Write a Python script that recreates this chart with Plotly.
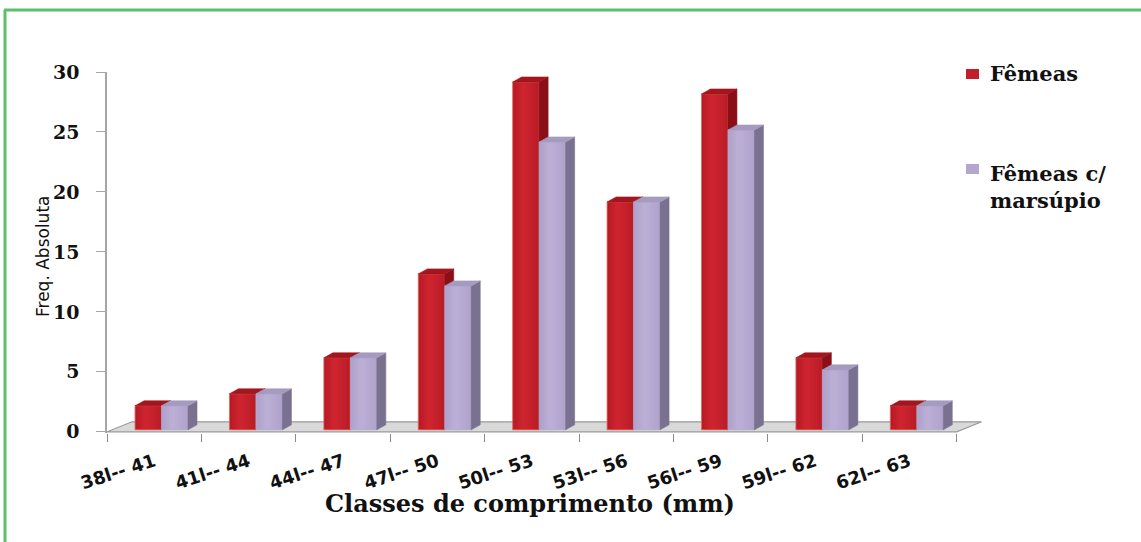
import plotly.graph_objects as go

# ---- data -------------------------------------------------------------
classes = ["38l-- 41", "41l-- 44", "44l-- 47", "47l-- 50", "50l-- 53",
           "53l-- 56", "56l-- 59", "59l-- 62", "62l-- 63"]
femeas = [2, 3, 6, 13, 29, 19, 28, 6, 2]
femeas_marsupio = [2, 3, 6, 12, 24, 19, 25, 5, 2]
y_ticks = [0, 5, 10, 15, 20, 25, 30]

# ---- canvas / axes geometry ----------------------------------------------
W, H = 1141, 542
M_L, M_R, M_T, M_B = 107, 156, 72, 109
X_RANGE = [0, 9.3]
Y_RANGE = [-0.1, 30]
PLOT_W = W - M_L - M_R
PLOT_H = H - M_T - M_B
ppx = PLOT_W / (X_RANGE[1] - X_RANGE[0])   # pixels per category unit
ppy = PLOT_H / (Y_RANGE[1] - Y_RANGE[0])   # pixels per frequency unit

# pseudo-3D extrusion, expressed in data units
BAR_DX, BAR_DY = 9 / ppx, 5 / ppy
FLOOR_DX, FLOOR_DY = 25 / ppx, 10 / ppy
LIFT = 2 / ppy
BAR_W = 0.28
OFFSETS = [0.297, 0.578]
STRIPS = 10         # overlapping bands used to shade the front faces

N = len(classes)


def px_x(p):
    return (p - M_L) / PLOT_W


def px_y(p):
    return 1 - (p - M_T) / PLOT_H


def hex_rgb(h):
    h = h.lstrip("#")
    return [int(h[i:i + 2], 16) for i in (0, 2, 4)]


def mix(c1, c2, t):
    a, b = hex_rgb(c1), hex_rgb(c2)
    return "rgb(%d,%d,%d)" % tuple(round(a[k] + (b[k] - a[k]) * t) for k in range(3))


def shade_profile(t):
    # light in the left-centre, darker towards both edges
    peak = 0.4
    if t < peak:
        return 0.35 + 0.65 * (t / peak)
    return 1 - 0.55 * ((t - peak) / (1 - peak))


def rect_path(values, offset, a, b):
    xs, ys = [], []
    for i, v in enumerate(values):
        x0 = i + offset + BAR_W * a
        x1 = i + offset + BAR_W * b
        y0, y1 = LIFT, v + LIFT
        xs += [x0, x1, x1, x0, x0, None]
        ys += [y0, y0, y1, y1, y0, None]
    return xs, ys


def side_top(values, offset):
    side_x, side_y, top_x, top_y = [], [], [], []
    for i, v in enumerate(values):
        x0 = i + offset
        x1 = x0 + BAR_W
        y0, y1 = LIFT, v + LIFT
        side_x += [x1, x1 + BAR_DX, x1 + BAR_DX, x1, x1, None]
        side_y += [y0, y0 + BAR_DY, y1 + BAR_DY, y1, y0, None]
        top_x += [x0, x1, x1 + BAR_DX, x0 + BAR_DX, x0, None]
        top_y += [y1, y1, y1 + BAR_DY, y1 + BAR_DY, y1, None]
    return (side_x, side_y), (top_x, top_y)


def poly(xy, color, name, width=0.6, line_color=None):
    return go.Scatter(
        x=xy[0], y=xy[1], mode="lines", fill="toself", fillcolor=color,
        line=dict(color=line_color or color, width=width),
        name=name, showlegend=False, hoverinfo="skip",
    )


fig = go.Figure()

# floor of the 3-D plot area
floor_x = [0, N, N + FLOOR_DX, FLOOR_DX, 0]
floor_y = [0, 0, FLOOR_DY, FLOOR_DY, 0]
fig.add_trace(go.Scatter(
    x=floor_x, y=floor_y, mode="lines", fill="toself", fillcolor="#d9d9d9",
    line=dict(color="#9a9a9a", width=1.2), showlegend=False, hoverinfo="skip",
))

series = [
    # name, values, offset, dark front, light front, side, top, outline
    ("Fêmeas", femeas, OFFSETS[0],
     "#a8141e", "#cf2531", "#8a0f16", "#a3161d", "#e06a58"),
    ("Fêmeas c/ marsúpio", femeas_marsupio, OFFSETS[1],
     "#a698c3", "#bcb0d6", "#7a708f", "#a59bbf", "#b8acd2"),
]
for name, vals, off, c_dark, c_light, c_side, c_top, c_edge in series:
    # shaded front face: each band runs to the right edge and is overpainted
    for k in range(STRIPS):
        a = k / STRIPS
        t = shade_profile(a + 0.5 / STRIPS)
        fig.add_trace(poly(rect_path(vals, off, a, 1), mix(c_dark, c_light, t),
                           name, width=0))
    outline = rect_path(vals, off, 0, 1)
    fig.add_trace(go.Scatter(
        x=outline[0], y=outline[1], mode="lines",
        line=dict(color=c_edge, width=0.8),
        showlegend=False, hoverinfo="skip",
    ))
    sd, tp = side_top(vals, off)
    fig.add_trace(poly(sd, c_side, name))
    fig.add_trace(poly(tp, c_top, name))

fig.update_layout(
    width=W, height=H,
    margin=dict(l=M_L, r=M_R, t=M_T, b=M_B),
    paper_bgcolor="white", plot_bgcolor="rgba(0,0,0,0)",
    showlegend=False,
    xaxis=dict(
        range=X_RANGE, showgrid=False, zeroline=False, showline=False,
        tickmode="array", tickvals=[i + 0.5 for i in range(N)], ticktext=classes,
        ticks="", tickangle=-18, ticklabelstandoff=14,
        tickfont=dict(family="DejaVu Sans", size=18, color="#111111", weight="bold"),
        minor=dict(ticks="outside", ticklen=8, tickcolor="#8c8c8c", tickwidth=1.2,
                   tick0=0, dtick=1, showgrid=False),
    ),
    yaxis=dict(
        range=Y_RANGE, showgrid=False, zeroline=False,
        showline=True, linecolor="#a6a6a6", linewidth=1.5,
        tickmode="array", tickvals=y_ticks,
        ticks="outside", ticklen=9, tickcolor="#a6a6a6", tickwidth=1.2,
        ticklabelstandoff=13,
        tickfont=dict(family="DejaVu Serif", size=19, color="#111111", weight="bold"),
    ),
)

# axis titles
fig.add_annotation(
    text="Classes de comprimento (mm)", xref="paper", yref="paper",
    x=px_x(530), y=px_y(503), showarrow=False, xanchor="center", yanchor="middle",
    font=dict(family="DejaVu Serif", size=24, color="#111111", weight="bold"),
)
fig.add_annotation(
    text="Freq. Absoluta", xref="paper", yref="paper", textangle=-90,
    x=px_x(43), y=px_y(257), showarrow=False, xanchor="center", yanchor="middle",
    font=dict(family="DejaVu Sans", size=17, color="#111111"),
)

# legend
legend_items = [
    ("Fêmeas", "#c41e28", 74, 74),
    ("Fêmeas c/<br>marsúpio", "#b4a7cf", 169, 187),
]
for text, color, key_y, text_y in legend_items:
    fig.add_shape(type="rect", xref="paper", yref="paper",
                  x0=px_x(966), x1=px_x(979), y0=px_y(key_y + 5), y1=px_y(key_y - 5),
                  fillcolor=color, line=dict(width=0))
    fig.add_annotation(
        text=text, xref="paper", yref="paper", x=px_x(988), y=px_y(text_y),
        showarrow=False, xanchor="left", yanchor="middle", align="left",
        font=dict(family="DejaVu Serif", size=21, color="#111111", weight="bold"),
    )

# green frame around the figure
fig.add_shape(type="line", xref="paper", yref="paper",
              x0=px_x(5), x1=px_x(5), y0=px_y(10), y1=px_y(H + 5),
              line=dict(color="#5cbf6e", width=3))
fig.add_shape(type="line", xref="paper", yref="paper",
              x0=px_x(4), x1=px_x(W + 5), y0=px_y(10), y1=px_y(10),
              line=dict(color="#5cbf6e", width=3))

fig.write_html("out.html")
